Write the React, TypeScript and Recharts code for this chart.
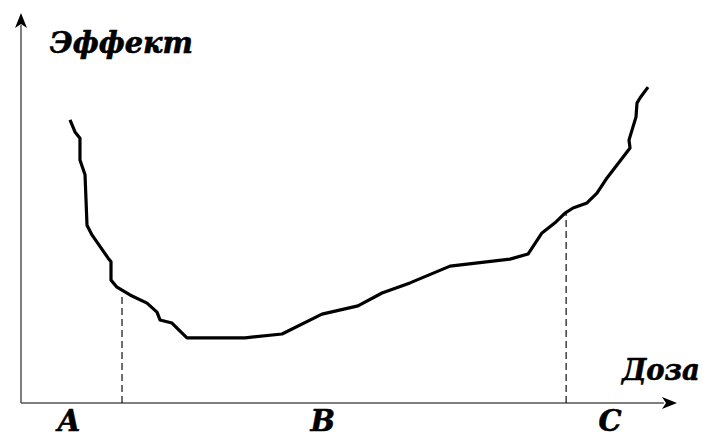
import React from "react";
import { LineChart, Line, XAxis, YAxis, ReferenceLine, ReferenceDot } from "recharts";

// Dose (x) and effect (y), in relative units (0..100 along each axis)
const doses = [7.47, 8.23, 8.99, 8.99, 9.76, 9.91, 10.06, 10.82, 13.26, 13.72, 13.72, 14.63, 16.62, 19.21, 20.73, 21.19, 23.02, 23.78, 25.3, 34.15, 39.79, 45.88, 51.37, 55.03, 59.3, 65.4, 74.54, 77.29, 79.42, 81.4, 82.93, 84.15, 86.28, 87.8, 89.33, 92.84, 92.68, 93.29, 93.75, 93.9, 94.36, 95.58];
const effects = [72.6, 69.5, 67.9, 62.3, 58.5, 52.1, 45.6, 43.1, 37.2, 36.2, 31.5, 29.7, 27.7, 25.6, 23.3, 21.3, 20.5, 19.2, 16.7, 16.7, 17.7, 22.8, 24.9, 28.2, 30.8, 35.1, 36.9, 38.2, 43.6, 46.2, 48.7, 50.0, 51.3, 53.8, 57.7, 65.4, 67.4, 70.8, 73.3, 76.9, 78.2, 81.0];

// Zone boundaries (dose) and curve height at those boundaries
const boundaryDoses = [15.4, 83.1];
const boundaryEffects = [28.0, 48.7];

// Zone labels
const zoneLabels = ["A", "B", "C"];
const zoneCenters = [7.3, 46.0, 89.8];

const axisTitleX = "Доза";
const axisTitleY = "Эффект";

const data = doses.map((d, i) => ({ dose: d, effect: effects[i] }));

const FONT = "'DejaVu Serif', 'Liberation Serif', serif";

const TextShape = (text: string, anchor: string, size: number, len?: number) => (props: any) => (
  <text
    x={props.cx}
    y={props.cy}
    textAnchor={anchor}
    fontFamily={FONT}
    fontWeight="bold"
    fontStyle="italic"
    fontSize={size}
    fill="#000"
    stroke="#000"
    strokeWidth={0.6}
    {...(len ? { textLength: len, lengthAdjust: "spacingAndGlyphs" } : {})}
  >
    {text}
  </text>
);

const ArrowRight = (props: any) => {
  const { cx, cy } = props;
  return (
    <path
      d={`M${cx},${cy} L${cx - 15},${cy - 6} L${cx - 11},${cy} L${cx - 15},${cy + 6} Z`}
      fill="#000"
    />
  );
};

const ArrowUp = (props: any) => {
  const { cx, cy } = props;
  return (
    <path
      d={`M${cx},${cy} L${cx - 6},${cy + 15} L${cx},${cy + 11} L${cx + 6},${cy + 15} Z`}
      fill="#000"
    />
  );
};

export default function App() {
  return (
    <div style={{ position: "absolute", left: 0, top: 0, background: "#fff" }}>
      <LineChart
        width={707}
        height={437}
        data={data}
        margin={{ top: 13, right: 30, bottom: 34, left: 21 }}
      >
        <XAxis type="number" dataKey="dose" domain={[0, 100]} hide allowDataOverflow />
        <YAxis type="number" domain={[0, 100]} hide allowDataOverflow />
        <ReferenceLine
          segment={[{ x: 0, y: 0 }, { x: 98, y: 0 }]}
          stroke="#555"
          strokeWidth={1.5}
          ifOverflow="visible"
        />
        <ReferenceLine
          segment={[{ x: 0, y: 0 }, { x: 0, y: 97 }]}
          stroke="#555"
          strokeWidth={1.5}
          ifOverflow="visible"
        />
        <ReferenceDot x={100} y={0} r={0} shape={ArrowRight} ifOverflow="visible" />
        <ReferenceDot x={0} y={100} r={0} shape={ArrowUp} ifOverflow="visible" />
        {boundaryDoses.map((d, i) => (
          <ReferenceLine
            key={"b" + i}
            segment={[{ x: d, y: 0 }, { x: d, y: boundaryEffects[i] }]}
            stroke="#222"
            strokeWidth={1.3}
            strokeDasharray="7 4"
            ifOverflow="visible"
          />
        ))}
        <Line
          type="linear"
          dataKey="effect"
          stroke="#000"
          strokeWidth={3.2}
          dot={false}
          strokeLinejoin="round"
          isAnimationActive={false}
        />
        {zoneLabels.map((l, i) => (
          <ReferenceDot
            key={"z" + i}
            x={zoneCenters[i]}
            y={-7.2}
            r={0}
            ifOverflow="visible"
            shape={TextShape(l, "middle", 29)}
          />
        ))}
        <ReferenceDot x={4.4} y={89.7} r={0} ifOverflow="visible" shape={TextShape(axisTitleY, "start", 29, 143)} />
        <ReferenceDot x={91.6} y={5.9} r={0} ifOverflow="visible" shape={TextShape(axisTitleX, "start", 29, 78)} />
      </LineChart>
    </div>
  );
}
